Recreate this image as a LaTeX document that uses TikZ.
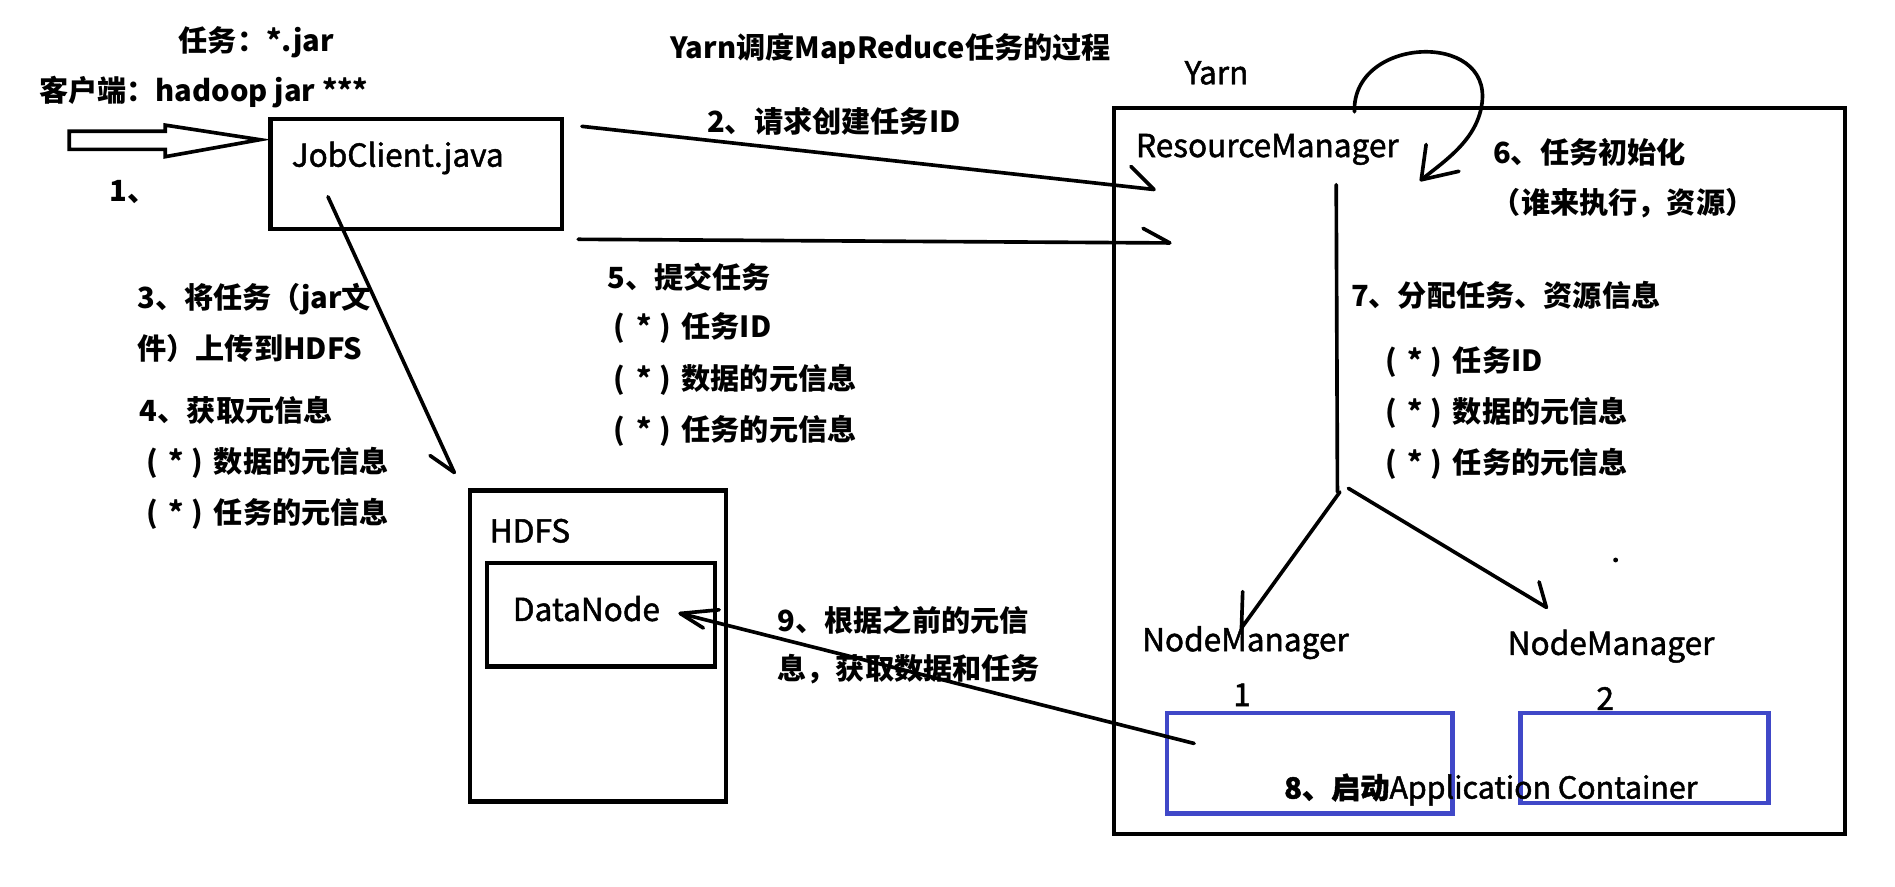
\documentclass[tikz,border=0pt]{standalone}
\usepackage{fontspec}
\setmainfont{Noto Sans CJK SC}
\newfontfamily\medfont{Noto Sans CJK SC}[FakeBold=1.5]
\definecolor{boxblue}{RGB}{64,72,200}
\newcommand{\pstar}{\hspace*{5pt}(\hspace*{9pt}*\hspace*{6pt})\hspace*{9pt}}
\begin{document}
\begin{tikzpicture}[x=1pt,y=-1pt,
  ln/.style={line width=3pt, line cap=round, line join=round},
  box/.style={draw, line width=3.5pt, anchor=north west, inner sep=0pt},
  bbox/.style={draw=boxblue, line width=3.5pt, anchor=north west, inner sep=0pt},
  lbl/.style={anchor=west, inner sep=0pt, font=\bfseries\fontsize{24}{28}\selectfont},
  nm/.style={anchor=west, inner sep=0pt, font=\medfont\fontsize{26}{30}\selectfont}]
\useasboundingbox[fill=white] (0,0) rectangle (1560,730);

% boxes
\node[box, minimum width=240pt, minimum height=91pt] (jc) at (221,96) {};
\node[box, minimum width=602pt, minimum height=598pt] (yarn) at (915,87) {};
\node[box, minimum width=211pt, minimum height=256pt] (hdfs) at (385,402) {};
\node[box, minimum width=188pt, minimum height=85pt] (dn) at (399,462) {};
\node[bbox, minimum width=235pt, minimum height=83pt] (c1) at (959,585) {};
\node[bbox, minimum width=204pt, minimum height=74pt] (c2) at (1250,585) {};

% texts
\node[lbl] (ttitle) at (552,40) {Yarn调度MapReduce任务的过程};
\node[lbl] (tjar) at (147,35) {任务：*.jar};
\node[lbl] (tclient) at (32,76) {客户端：hadoop jar ***};
\node[lbl] (t1) at (90,158) {1、};
\node[nm] (jctext) at (240,130) {JobClient.java};
\node[nm] (tyarn) at (975,60) {Yarn};
\node[lbl] (t2) at (582,100) {2、请求创建任务ID};
\node[lbl] (t5a) at (500,228) {5、提交任务};
\node[lbl] (t5b) at (500,270) {\pstar 任务ID};
\node[lbl] (t5c) at (500,313) {\pstar 数据的元信息};
\node[lbl] (t5d) at (500,355) {\pstar 任务的元信息};
\node[lbl] (t3a) at (113,246) {3、将任务（jar文};
\node[lbl] (t3b) at (113,287) {件）上传到HDFS};
\node[lbl] (t4a) at (115,338) {4、获取元信息};
\node[lbl] (t4b) at (115,381) {\pstar 数据的元信息};
\node[lbl] (t4c) at (115,423) {\pstar 任务的元信息};
\node[nm] (rm) at (935,123) {ResourceManager};
\node[lbl] (t6a) at (1229,125) {6、任务初始化};
\node[lbl] (t6b) at (1228,167) {（谁来执行，资源）};
\node[lbl] (t7a) at (1112,243) {7、分配任务、资源信息};
\node[lbl] (t7b) at (1135,298) {\pstar 任务ID};
\node[lbl] (t7c) at (1135,340) {\pstar 数据的元信息};
\node[lbl] (t7d) at (1135,382) {\pstar 任务的元信息};
\node[nm] (nm1) at (940,529) {NodeManager};
\node[nm] (n1) at (1015,572) {1};
\node[nm] (nm2) at (1241,532) {NodeManager};
\node[nm] (n2) at (1314,575) {2};
\node[nm, font=\medfont\fontsize{25}{30}\selectfont] (t8) at (1057,650) {{\bfseries\fontsize{24}{28}\selectfont 8、启动}Application Container};
\node[nm] (thdfs) at (403,437) {HDFS};
\node[nm] (tdn) at (422,501) {DataNode};
\node[lbl] (t9a) at (640,511) {9、根据之前的元信};
\node[lbl] (t9b) at (640,551) {息，获取数据和任务};

% coordinates
\coordinate (a1s) at (57,108);
\coordinate (a2s) at (479,104);
\coordinate (a2e) at (950,156);
\coordinate (a5s) at (476,197);
\coordinate (a5e) at (963,200);
\coordinate (a3s) at (270,162);
\coordinate (a3e) at (374,389);
\coordinate (loopS) at (1115,92);
\coordinate (loopM) at (1220,85);
\coordinate (loopE) at (1170,148);
\coordinate (rmTop) at (1100,152);
\coordinate (rmBot) at (1101,405);
\coordinate (a7ls) at (1103,405);
\coordinate (a7le) at (1022,517);
\coordinate (a7rs) at (1110,402);
\coordinate (a7re) at (1273,500);
\coordinate (a9s) at (983,612);
\coordinate (a9e) at (560,505);

% 1: hollow arrow
\draw[line width=3pt, line join=miter]
  (a1s) -- (136,108) -- (136,103) -- (214,115) -- (136,129) -- (136,123) -- (57,123) -- cycle;

% 2
\draw[ln] (a2s) -- (a2e) -- (931,137);
% 5
\draw[ln] (a5s) -- (a5e) -- (941,188);
% 3
\draw[ln] (a3s) -- (a3e) -- (354,375);
% 6 loop
\draw[ln] (loopS) .. controls (1113,30) and (1228,25) .. (loopM)
  .. controls (1216,115) and (1190,132) .. (loopE);
\draw[ln] (1174,119) -- (loopE) -- (1201,141);
% 7
\draw[ln] (rmTop) -- (rmBot);
\draw[ln] (a7ls) -- (a7le) -- (1023,487);
\draw[ln] (a7rs) -- (a7re) -- (1267,479);
\fill (1330,461) circle (2pt);
% 9
\draw[ln] (a9s) -- (a9e);
\draw[ln] (592,502) -- (a9e) -- (579,517);
\end{tikzpicture}
\end{document}
